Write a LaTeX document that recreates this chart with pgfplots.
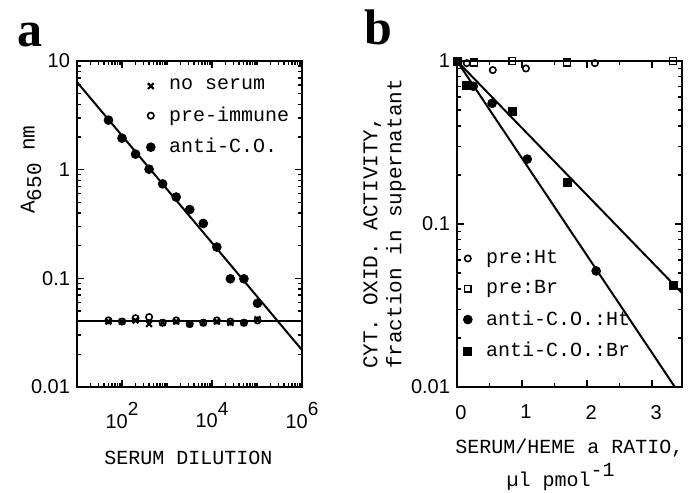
\documentclass[border=0pt]{standalone}
\usepackage{pgfplots}
\pgfplotsset{compat=1.18}
\usepackage{fontspec}
\setmainfont{Liberation Serif}
\setsansfont{Liberation Sans}
\setmonofont{Liberation Mono}
\begin{document}
\begin{tikzpicture}
\path[use as bounding box] (-38.5pt,-52.5pt) rectangle (309pt,193.5pt);
\pgfplotsset{
  every axis/.append style={
    scale only axis, width=112.5pt, height=163pt,
    axis line style={line width=1pt},
    every tick/.style={line width=0.7pt, black},
    major tick length=3.5pt, minor tick length=2pt,
    tick label style={font=\fontsize{10}{12}\sffamily},
    xticklabel style={yshift=-4pt},
    legend cell align=left,
    legend style={draw=none, fill=none, font=\fontsize{10}{11}\ttfamily, row sep=3pt, column sep=5pt},
    clip=false,
  }
}
% ---------------- panel a ----------------
\begin{loglogaxis}[at={(0,0)}, anchor=south west,
  xmin=10, xmax=1e6, ymin=0.01, ymax=10,
  xtick={100,10000,1000000},
  xticklabels={{10\raisebox{1.2ex}{\fontsize{9.5}{10}\selectfont 2}},{10\raisebox{1.2ex}{\fontsize{9.5}{10}\selectfont 4}},{10\raisebox{1.2ex}{\fontsize{9.5}{10}\selectfont 6}}},
  minor xtick={10,20,30,40,50,60,70,80,90,200,300,400,500,600,700,800,900,1000,2000,3000,4000,5000,6000,7000,8000,9000,20000,30000,40000,50000,60000,70000,80000,90000,100000,200000,300000,400000,500000,600000,700000,800000,900000},
  ytick={0.01,0.1,1,10},
  yticklabels={0.01,0.1,1,10},
  minor ytick={0.02,0.03,0.04,0.05,0.06,0.07,0.08,0.09,0.2,0.3,0.4,0.5,0.6,0.7,0.8,0.9,2,3,4,5,6,7,8,9},
  legend style={at={(rel axis cs:0.28,0.97)}, anchor=north west},
]
\addplot[only marks, mark=x, mark size=2pt, line width=1.1pt] coordinates {
(50,0.040) (100,0.040) (200,0.041) (400,0.038) (800,0.039) (1600,0.040) (3200,0.038) (6400,0.039) (12800,0.040) (25600,0.039) (51200,0.039) (102400,0.042)};
\addlegendentry{no serum}
\addplot[only marks, mark=o, mark size=1.6pt, line width=0.8pt] coordinates {
(50,0.041) (100,0.040) (200,0.043) (400,0.044) (800,0.039) (1600,0.041) (3200,0.038) (6400,0.039) (12800,0.041) (25600,0.040) (51200,0.039) (102400,0.041)};
\addlegendentry{pre-immune}
\addplot[only marks, mark=*, mark size=2.2pt] coordinates {
(50,2.86) (100,1.95) (200,1.39) (400,1.01) (800,0.74) (1600,0.56) (3200,0.43) (6400,0.32) (12800,0.194) (25600,0.099) (51200,0.099) (102400,0.059)};
\addlegendentry{anti-C.O.}
\addplot[forget plot, line width=1pt] coordinates {(10,6.4) (1000000,0.0219)};
\addplot[forget plot, line width=1pt] coordinates {(10,0.0403) (1000000,0.0403)};
\node[font=\fontsize{10}{12}\ttfamily] at (rel axis cs:0.495,-0.218) {SERUM DILUTION};
\node[rotate=90, font=\fontsize{10.5}{12}\ttfamily] at (rel axis cs:-0.204,0.667) {A\raisebox{-0.6ex}{650} nm};
\end{loglogaxis}
% ---------------- panel b ----------------
\begin{semilogyaxis}[at={(190pt,0)}, anchor=south west,
  xmin=0, xmax=3.46, ymin=0.01, ymax=1,
  xtick={0,1,2,3}, xticklabels={0,1,2,3},
  xticklabel style={yshift=-1.5pt, xshift=2pt},
  minor xtick={0.5,1.5,2.5},
  ytick={0.01,0.1,1}, yticklabels={0.01,0.1,1},
  minor ytick={0.02,0.03,0.04,0.05,0.06,0.07,0.08,0.09,0.2,0.3,0.4,0.5,0.6,0.7,0.8,0.9},
  legend style={at={(rel axis cs:0.0,0.445)}, anchor=north west},
]
\addplot[only marks, mark=o, mark size=1.6pt, line width=0.8pt] coordinates {
(0.15,0.97) (0.55,0.88) (1.06,0.90) (2.12,0.97)};
\addlegendentry{pre:Ht}
\addplot[only marks, mark=square, mark size=1.7pt, line width=0.8pt] coordinates {
(0,1.0) (0.26,0.98) (0.85,1.0) (1.69,0.98) (3.32,1.0)};
\addlegendentry{pre:Br}
\addplot[only marks, mark=*, mark size=2.2pt] coordinates {
(0.25,0.70) (0.54,0.55) (1.08,0.25) (2.14,0.0515)};
\addlegendentry{anti-C.O.:Ht}
\addplot[only marks, mark=square*, mark size=2pt] coordinates {
(0,1.0) (0.15,0.71) (0.85,0.49) (1.69,0.18) (3.32,0.042)};
\addlegendentry{anti-C.O.:Br}
\addplot[forget plot, line width=1pt] coordinates {(0,1) (3.35,0.01)};
\addplot[forget plot, line width=1pt] coordinates {(0,1) (3.46,0.0377)};
\node[font=\fontsize{10}{12}\ttfamily] at (rel axis cs:0.50,-0.187) {SERUM/HEME a RATIO,};
\node[font=\fontsize{10}{12}\ttfamily] at (rel axis cs:0.46,-0.276) {µl pmol\raisebox{0.9ex}{-1}};
\node[rotate=90, anchor=west, align=left, font=\fontsize{10.5}{12}\ttfamily] at (rel axis cs:-0.322,0.034) {CYT. OXID. ACTIVITY,\\fraction in supernatant};
\end{semilogyaxis}
\node[anchor=base west, font=\fontsize{25}{25}\selectfont\bfseries] at (-33.5pt,170pt) {a};
\node[anchor=base west, font=\fontsize{25}{25}\selectfont\bfseries] at (140pt,171pt) {b};
\end{tikzpicture}
\end{document}
